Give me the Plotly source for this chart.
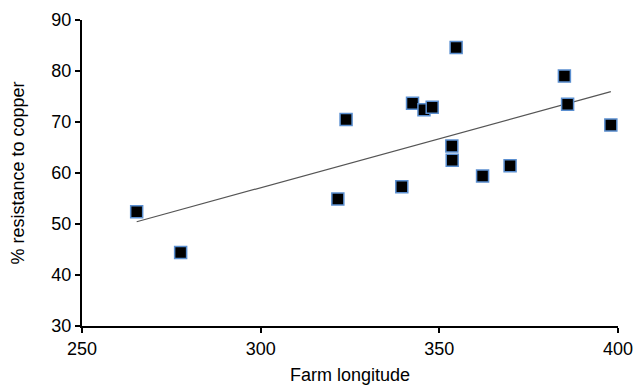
import numpy as np
import plotly.graph_objects as go

longitude = [265.3, 277.6, 321.6, 323.9, 339.5, 342.5, 345.7, 348.0,
             353.5, 353.6, 354.7, 362.1, 369.8, 385.0, 385.9, 398.0]
resistance = [52.4, 44.4, 54.9, 70.5, 57.3, 73.7, 72.4, 72.9,
              65.3, 62.5, 84.6, 59.4, 61.4, 79.0, 73.5, 69.4]
x_ticks = [250, 300, 350, 400]
y_ticks = [30, 40, 50, 60, 70, 80, 90]

slope, intercept = np.polyfit(longitude, resistance, 1)
trend_x = [min(longitude), max(longitude)]
trend_y = [slope * v + intercept for v in trend_x]

fig = go.Figure()
fig.add_trace(go.Scatter(
    x=trend_x, y=trend_y, mode="lines",
    line=dict(color="#555555", width=1.2), hoverinfo="skip", showlegend=False))
fig.add_trace(go.Scatter(
    x=longitude, y=resistance, mode="markers",
    marker=dict(symbol="square", size=12, color="black",
                line=dict(color="#5b8fd0", width=1.5)),
    showlegend=False, cliponaxis=False))

font = "Liberation Sans, Arial, Helvetica, sans-serif"
fig.update_layout(
    width=636, height=390,
    margin=dict(l=82, r=18, t=20, b=64),
    plot_bgcolor="white", paper_bgcolor="white",
    font=dict(family=font, size=18, color="black"),
    xaxis=dict(range=[249.999, 400.001], tickvals=x_ticks, showgrid=False, zeroline=False,
               showline=True, linecolor="black", linewidth=2, automargin=False,
               ticks="outside", ticklen=5, tickwidth=2, tickcolor="black",
               tickfont=dict(size=18),
               title=dict(text="Farm longitude", font=dict(size=18), standoff=11)),
    yaxis=dict(range=[29.999, 90.001], tickvals=y_ticks, showgrid=False, zeroline=False,
               showline=True, linecolor="black", linewidth=2, automargin=False,
               ticks="outside", ticklen=5, tickwidth=2, tickcolor="black",
               tickfont=dict(size=18),
               title=dict(text="% resistance to copper", font=dict(size=18), standoff=22)),
)
fig.write_html("out.html", config={"displayModeBar": False},
               post_script="document.body.style.margin='0';document.body.style.overflow='hidden';")
